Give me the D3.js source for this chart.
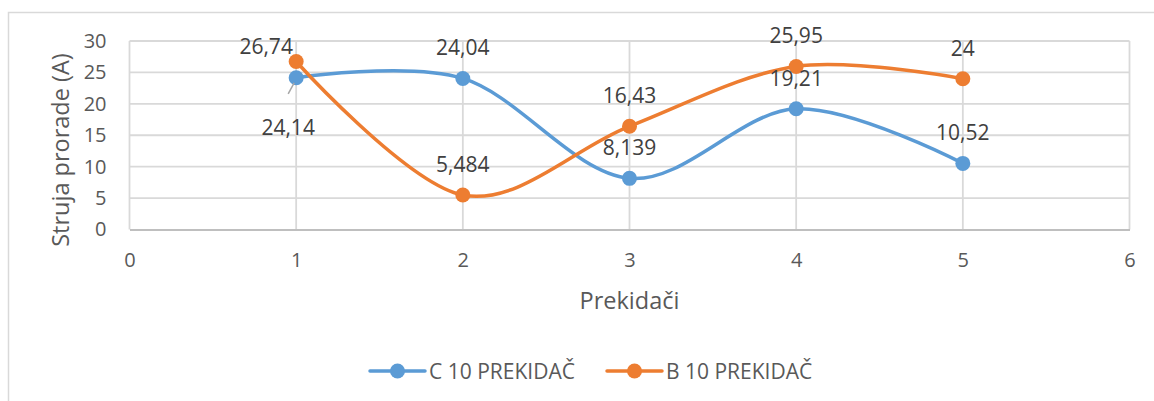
<!DOCTYPE html>
<html>
<head>
<meta charset="utf-8">
<script src="https://cdn.jsdelivr.net/npm/d3@7"></script>
<style>
  html, body { margin: 0; padding: 0; background: #fff; }
  svg { display: block; font-family: "Open Sans", "Noto Sans", sans-serif; }
</style>
</head>
<body>
<svg id="chart" width="1154" height="401"></svg>
<script>
// Switch number on the x axis, trip current (A) on the y axis
const categories = [1, 2, 3, 4, 5];
const seriesC = [24.14, 24.04, 8.139, 19.21, 10.52];
const seriesB = [26.74, 5.484, 16.43, 25.95, 24];
const seriesNames = ["C 10 PREKIDAČ", "B 10 PREKIDAČ"];
const xTickValues = [0, 1, 2, 3, 4, 5, 6];
const yTickValues = [0, 5, 10, 15, 20, 25, 30];
const xTitle = "Prekidači";
const yTitle = "Struja prorade (A)";

const colors = ["#5B9BD5", "#ED7D31"];

const svg = d3.select("#chart");
const W = 1154, H = 401;

// chart frame (right and bottom edges fall outside the canvas)
svg.append("rect")
  .attr("x", 8.5).attr("y", 12.5)
  .attr("width", W + 20).attr("height", H + 20)
  .attr("fill", "#fff").attr("stroke", "#d9d9d9").attr("stroke-width", 1.5);

const plot = { left: 129.5, right: 1129.5, top: 41, bottom: 229.5 };

const x = d3.scaleLinear().domain([0, 6]).range([plot.left, plot.right]);
const y = d3.scaleLinear().domain([0, 30]).range([plot.bottom, plot.top]);

// gridlines
const grid = svg.append("g").attr("stroke", "#d9d9d9").attr("stroke-width", 1.8);
grid.selectAll("line.h").data(yTickValues.filter(v => v > 0)).join("line")
  .attr("x1", plot.left).attr("x2", plot.right)
  .attr("y1", d => y(d)).attr("y2", d => y(d));
grid.selectAll("line.v").data(xTickValues).join("line")
  .attr("y1", plot.top).attr("y2", plot.bottom)
  .attr("x1", d => x(d)).attr("x2", d => x(d));

// axes
const yAxis = svg.append("g")
  .attr("transform", `translate(${plot.left},0)`)
  .call(d3.axisLeft(y).tickValues(yTickValues).tickFormat(d3.format("d")).tickSize(0).tickPadding(23));
yAxis.select(".domain").remove();

const xAxis = svg.append("g")
  .attr("transform", `translate(0,${plot.bottom})`)
  .call(d3.axisBottom(x).tickValues(xTickValues).tickFormat(d3.format("d")).tickSize(0).tickPadding(23));
xAxis.select(".domain").attr("stroke", "#bfbfbf").attr("stroke-width", 2);

svg.selectAll(".tick text")
  .attr("font-size", 20).attr("fill", "#595959")
  .attr("font-family", '"Open Sans", "Noto Sans", sans-serif');

// axis titles
svg.append("text")
  .attr("x", (plot.left + plot.right) / 2).attr("y", 300)
  .attr("text-anchor", "middle").attr("dominant-baseline", "central")
  .attr("font-size", 23.5).attr("fill", "#595959")
  .text(xTitle);

svg.append("text")
  .attr("transform", `translate(60,150) rotate(-90)`)
  .attr("text-anchor", "middle").attr("dominant-baseline", "central")
  .attr("font-size", 23.5).attr("fill", "#595959")
  .text(yTitle);

// smoothed lines with markers
const series = [seriesC, seriesB];
const line = d3.line()
  .x((d, i) => x(categories[i]))
  .y(d => y(d))
  .curve(d3.curveCatmullRom.alpha(0));

series.forEach((vals, s) => {
  svg.append("path")
    .datum(vals)
    .attr("d", line)
    .attr("fill", "none")
    .attr("stroke", colors[s])
    .attr("stroke-width", 3.5)
    .attr("stroke-linecap", "round");
});

series.forEach((vals, s) => {
  svg.append("g").selectAll("circle").data(vals).join("circle")
    .attr("cx", (d, i) => x(categories[i]))
    .attr("cy", d => y(d))
    .attr("r", 7.5)
    .attr("fill", colors[s]);
});

// value labels: centred above each point, with two moved aside
const fmt = v => String(v).replace(".", ",");
const labelShift = {
  "0-0": { dx: -8, dy: 49, leader: true },
  "1-0": { dx: -30, dy: -15 }
};

series.forEach((vals, s) => {
  vals.forEach((v, i) => {
    const px = x(categories[i]), py = y(v);
    const sh = labelShift[`${s}-${i}`] || { dx: 0, dy: -31 };
    if (sh.leader) {
      svg.append("line")
        .attr("x1", px - 8).attr("y1", py + 16)
        .attr("x2", px - 2).attr("y2", py + 5)
        .attr("stroke", "#a6a6a6").attr("stroke-width", 1.5);
    }
    svg.append("text")
      .attr("x", px + sh.dx).attr("y", py + sh.dy)
      .attr("text-anchor", "middle").attr("dominant-baseline", "central")
      .attr("font-size", 21).attr("fill", "#404040")
      .text(fmt(v));
  });
});

// legend
const legendItems = [
  { name: seriesNames[0], color: colors[0], x0: 370 },
  { name: seriesNames[1], color: colors[1], x0: 607 }
];
const legendY = 371;
const lg = svg.append("g");
legendItems.forEach(it => {
  lg.append("line")
    .attr("x1", it.x0).attr("x2", it.x0 + 55)
    .attr("y1", legendY).attr("y2", legendY)
    .attr("stroke", it.color).attr("stroke-width", 3.5).attr("stroke-linecap", "round");
  lg.append("circle")
    .attr("cx", it.x0 + 27.5).attr("cy", legendY).attr("r", 7.5).attr("fill", it.color);
  lg.append("text")
    .attr("x", it.x0 + 59).attr("y", legendY)
    .attr("dominant-baseline", "central")
    .attr("font-size", 21).attr("fill", "#595959")
    .text(it.name);
});
</script>
</body>
</html>
